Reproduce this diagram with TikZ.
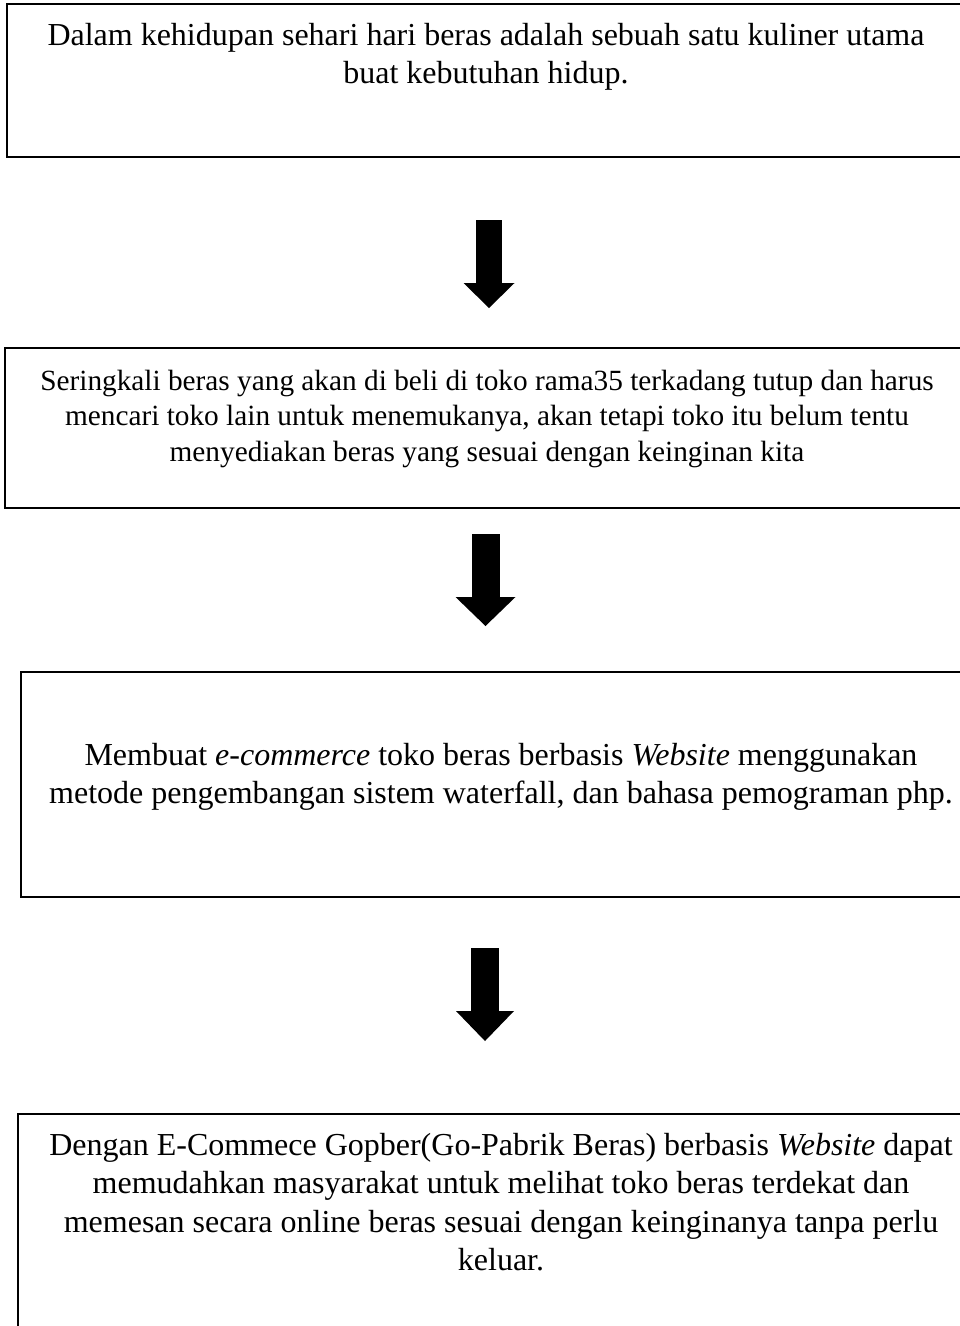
\documentclass[tikz,border=0pt]{standalone}
\usepackage{fontspec}
\setmainfont{Liberation Serif}
\usetikzlibrary{arrows.meta}
\newcommand{\boxtext}[4]{\parbox[c][#1][t]{#2}{\centering\rule{0pt}{#3}#4}}
\tikzset{
  flowbox/.style={draw, line width=2.5pt, inner sep=0pt, outer sep=0pt, anchor=north west,
    font=\fontsize{32}{38.5}\selectfont},
  blockarrow/.style n args={3}{line width=#1, -{Triangle[width=#2,length=#3,line width=0pt]}}
}
\begin{document}
\begin{tikzpicture}[x=1pt,y=-1pt]
  \useasboundingbox (0,0) rectangle (960,1326);
  \node[flowbox] (dalam) at (7,4) {\boxtext{153pt}{958pt}{41pt}{Dalam kehidupan sehari hari beras adalah sebuah satu kuliner utama\\ buat kebutuhan hidup.}};
  \node[flowbox, font=\fontsize{29.3}{35.5}\selectfont] (masalah) at (5,348) {\boxtext{160pt}{964pt}{42pt}{Seringkali beras yang akan di beli di toko rama35 terkadang tutup dan harus\\ mencari toko lain untuk menemukanya, akan tetapi toko itu belum tentu\\ menyediakan beras yang sesuai dengan keinginan kita}};
  \node[flowbox] (solusi) at (21,672) {\boxtext{225pt}{960pt}{93pt}{Membuat \textit{e-commerce} toko beras berbasis \textit{Website} menggunakan\\ metode pengembangan sistem waterfall, dan bahasa pemograman php.}};
  \node[flowbox] (hasil) at (18,1114) {\boxtext{260pt}{966pt}{41pt}{Dengan E-Commece Gopber(Go-Pabrik Beras) berbasis \textit{Website} dapat\\ memudahkan masyarakat untuk melihat toko beras terdekat dan\\ memesan secara online beras sesuai dengan keinginanya tanpa perlu\\ keluar.}};
  \coordinate (a1s) at (489,220);
  \coordinate (a1e) at (489,308);
  \coordinate (a2s) at (485.5,534);
  \coordinate (a2e) at (485.5,626);
  \coordinate (a3s) at (485,948);
  \coordinate (a3e) at (485,1041);
  \draw[blockarrow={26pt}{51pt}{25pt}] (a1s) -- (a1e);
  \draw[blockarrow={28pt}{60pt}{29pt}] (a2s) -- (a2e);
  \draw[blockarrow={28pt}{58pt}{30pt}] (a3s) -- (a3e);
\end{tikzpicture}
\end{document}
